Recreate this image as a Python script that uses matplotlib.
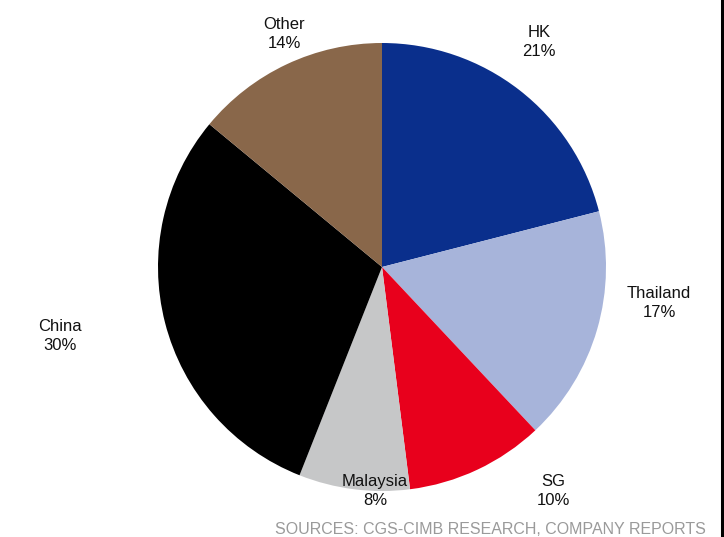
import matplotlib
matplotlib.use('Agg')
import matplotlib.pyplot as plt
from matplotlib.lines import Line2D

plt.rcParams['font.family'] = ['Liberation Sans', 'DejaVu Sans']

# 数据
labels = ['HK', 'Thailand', 'SG', 'Malaysia', 'China', 'Other']
shares = [21, 17, 10, 8, 30, 14]
colors = ['#0A2F8C', '#A7B4DA', '#E8001C', '#C6C7C8', '#000000', '#89674A']
# 标签位置（像素）
label_pos = [(539, 42), (659, 303), (553, 491), (375, 491), (60, 336), (284, 34)]

fig = plt.figure(figsize=(7.24, 5.37), dpi=100)
ax = fig.add_axes([0, 0, 1, 1])

cx, cy, r = 382, 537 - 267, 224
ax.pie(shares, colors=colors, startangle=90, counterclock=False,
       center=(cx, cy), radius=r, frame=True,
       wedgeprops=dict(linewidth=0))
ax.set_xlim(0, 724)
ax.set_ylim(0, 537)
ax.set_aspect('equal')
ax.axis('off')

for lab, v, (x, y) in zip(labels, shares, label_pos):
    ax.text(x, 537 - y, '%s\n%d%%' % (lab, v), ha='center', va='center',
            fontsize=12, color='#111111', linespacing=1.35)

fig.text(706 / 724, 1 - 529 / 537, 'SOURCES: CGS-CIMB RESEARCH, COMPANY REPORTS',
         ha='right', va='center', fontsize=11.5, color='#9A9A9A')

# 右侧黑线
fig.add_artist(Line2D([721.5 / 724, 721.5 / 724], [0, 1], color='black',
                      linewidth=2.2, transform=fig.transFigure))

fig.savefig('out.png', dpi=100, facecolor='white')
